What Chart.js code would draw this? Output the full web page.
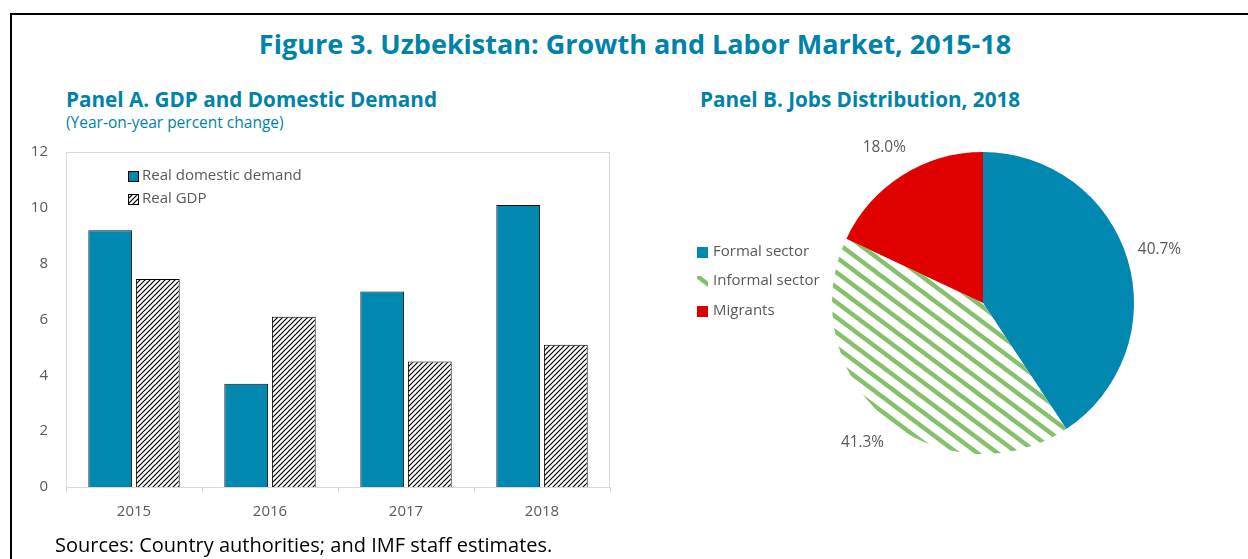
<!DOCTYPE html>
<html><head><meta charset="utf-8">
<script src="https://cdn.jsdelivr.net/npm/chart.js@4.4.0/dist/chart.umd.min.js"></script>
<style>
html,body{margin:0;padding:0;background:#fff;width:1248px;height:559px;overflow:hidden;font-family:'Open Sans',sans-serif;}
#frame{position:absolute;left:10px;top:13px;width:1240px;height:560px;border-top:2px solid #000;border-left:2px solid #000;}
.t{position:absolute;white-space:nowrap;line-height:1;}
#title{left:0;width:1270px;top:30px;text-align:center;font-size:27px;font-weight:bold;color:#0083a9;}
.panel{font-size:20.7px;font-weight:bold;color:#0083a9;top:89px;}
#sub{left:66px;top:115px;font-size:15.5px;color:#0083a9;}
#src{left:55px;top:535px;font-size:20px;color:#000;}
.leg{position:absolute;font-size:15px;color:#595959;white-space:nowrap;line-height:1;}
.sw{position:absolute;}
#barWrap{position:absolute;left:20px;top:140px;width:600px;height:395px;}
#pieWrap{position:absolute;left:800px;top:140px;width:400px;height:330px;}
</style></head>
<body>
<div id="frame"></div>
<div class="t" id="title">Figure 3. Uzbekistan: Growth and Labor Market, 2015-18</div>
<div class="t panel" style="left:66px">Panel A. GDP and Domestic Demand</div>
<div class="t panel" style="left:700px">Panel B. Jobs Distribution, 2018</div>
<div class="t" id="sub">(Year-on-year percent change)</div>
<div id="barWrap"><canvas id="bar" width="600" height="395"></canvas></div>
<div id="pieWrap"><canvas id="pie" width="400" height="330"></canvas></div>
<div id="barLegend"></div>
<div id="pieLegend"></div>
<div class="t" id="src">Sources: Country authorities; and IMF staff estimates.</div>
<script>
// ---- data ----
const categories = ['2015', '2016', '2017', '2018'];
const seriesNames = ['Real domestic demand', 'Real GDP'];
const domesticDemand = [9.2, 3.7, 7.0, 10.1];
const realGDP = [7.45, 6.1, 4.5, 5.1];
const yTicks = [0, 2, 4, 6, 8, 10, 12];
const jobLabels = ['Formal sector', 'Informal sector', 'Migrants'];
const jobShares = [40.7, 41.3, 18.0];

// ---- styles ----
const BLUE = '#0088b0', RED = '#e00000', GREEN = '#86c06c', GRAY = '#595959';
const FONT = "'Open Sans', sans-serif";

function hatchBlack() {
  const n = 5;
  const c = document.createElement('canvas'); c.width = n; c.height = n;
  const x = c.getContext('2d');
  x.fillStyle = '#fff'; x.fillRect(0, 0, n, n);
  x.strokeStyle = '#000'; x.lineWidth = 1.2;
  for (let k = 0; k <= 2; k++) { x.beginPath(); x.moveTo(-1, n * k + 1); x.lineTo(n * k + 1, -1); x.stroke(); }
  return c;
}
function stripeGreen() {
  const c = document.createElement('canvas'); c.width = 20; c.height = 15;
  const x = c.getContext('2d');
  x.fillStyle = '#fff'; x.fillRect(0, 0, 20, 15);
  x.strokeStyle = GREEN; x.lineWidth = 4.5;
  for (let k = -1; k <= 1; k++) { x.beginPath(); x.moveTo(-8, 15 * k - 6); x.lineTo(28, 15 * k + 21); x.stroke(); }
  return c;
}
const hatchTile = hatchBlack(), greenTile = stripeGreen();
const tmpCtx = document.createElement('canvas').getContext('2d');
const hatchPattern = tmpCtx.createPattern(hatchTile, 'repeat');
const greenPattern = tmpCtx.createPattern(greenTile, 'repeat');

// ---- bar chart ----
const plotBorder = {
  id: 'plotBorder',
  beforeDatasetsDraw(chart) {
    const { ctx, chartArea: a } = chart;
    ctx.save(); ctx.strokeStyle = '#d9d9d9'; ctx.lineWidth = 1;
    ctx.strokeRect(Math.round(a.left) + 0.5, Math.round(a.top) + 0.5, Math.round(a.width) - 1, Math.round(a.height));
    ctx.restore();
  }
};
new Chart(document.getElementById('bar'), {
  type: 'bar',
  data: {
    labels: categories,
    datasets: [
      { label: seriesNames[0], data: domesticDemand, backgroundColor: BLUE, borderColor: '#111', borderWidth: 1,
        barPercentage: 0.92, categoryPercentage: 0.70 },
      { label: seriesNames[1], data: realGDP, backgroundColor: hatchPattern, borderColor: '#000', borderWidth: 1,
        barPercentage: 0.92, categoryPercentage: 0.70 }
    ]
  },
  options: {
    responsive: false, animation: false,
    layout: { padding: { left: 0, right: 10, top: 12, bottom: 8 } },
    plugins: { legend: { display: false }, tooltip: { enabled: false } },
    scales: {
      x: {
        grid: { display: true, drawOnChartArea: false, drawTicks: true, tickLength: 5, color: '#d9d9d9', offset: true },
        border: { display: false },
        ticks: { color: GRAY, font: { family: FONT, size: 15 }, padding: 11 },
        afterFit(s) { s.height = 40; s.paddingLeft = 0; s.paddingRight = 0; }
      },
      y: {
        min: yTicks[0], max: yTicks[yTicks.length - 1],
        afterBuildTicks(s) { s.ticks = yTicks.map(v => ({ value: v })); },
        grid: { display: false, drawTicks: false },
        border: { display: false },
        ticks: { color: GRAY, font: { family: FONT, size: 15 }, padding: 18 },
        afterFit(s) { s.width = 46; s.paddingTop = 0; s.paddingBottom = 0; }
      }
    }
  },
  plugins: [plotBorder]
});

// ---- pie chart ----
const pieLabels = {
  id: 'pieLabels',
  afterDatasetsDraw(chart) {
    const ctx = chart.ctx, meta = chart.getDatasetMeta(0);
    ctx.save(); ctx.font = '15.4px ' + FONT; ctx.fillStyle = GRAY;
    ctx.textAlign = 'center'; ctx.textBaseline = 'middle';
    meta.data.forEach((arc, i) => {
      const p = arc.getProps(['x', 'y', 'startAngle', 'endAngle', 'outerRadius'], true);
      const mid = (p.startAngle + p.endAngle) / 2, r = p.outerRadius * 1.22;
      ctx.fillText(jobShares[i].toFixed(1) + '%', p.x + Math.cos(mid) * r, p.y + Math.sin(mid) * r);
    });
    ctx.restore();
  }
};
new Chart(document.getElementById('pie'), {
  type: 'pie',
  data: { labels: jobLabels, datasets: [{ data: jobShares, backgroundColor: [BLUE, greenPattern, RED], borderWidth: 0 }] },
  options: {
    responsive: false, animation: false,
    layout: { padding: { left: 32, right: 66, top: 12, bottom: 16 } },
    plugins: { legend: { display: false }, tooltip: { enabled: false } }
  },
  plugins: [pieLabels]
});

// ---- HTML legends ----
function swatch(parent, x, y, size, fill, tile, border) {
  const c = document.createElement('canvas'); c.width = size; c.height = size; c.className = 'sw';
  c.style.left = x + 'px'; c.style.top = y + 'px';
  const g = c.getContext('2d');
  g.fillStyle = tile ? g.createPattern(tile, 'repeat') : fill; g.fillRect(0, 0, size, size);
  if (border) { g.strokeStyle = '#000'; g.lineWidth = 1; g.strokeRect(0.5, 0.5, size - 1, size - 1); }
  parent.appendChild(c);
}
function text(parent, x, yc, s) {
  const d = document.createElement('div'); d.className = 'leg'; d.textContent = s;
  d.style.left = x + 'px'; d.style.top = (yc - 9) + 'px'; parent.appendChild(d);
}
const bl = document.getElementById('barLegend');
swatch(bl, 128, 171, 11, BLUE, null, true); text(bl, 142, 176, seriesNames[0]);
swatch(bl, 128, 194, 11, null, hatchTile, true); text(bl, 142, 199, seriesNames[1]);
const pl = document.getElementById('pieLegend');
const pieFills = [[BLUE, null], [null, greenTile], [RED, null]];
[252, 281, 311].forEach((yc, i) => {
  swatch(pl, 697, yc - 5, 11, pieFills[i][0], pieFills[i][1], false);
  text(pl, 713, yc, jobLabels[i]);
});
</script>
</body></html>
